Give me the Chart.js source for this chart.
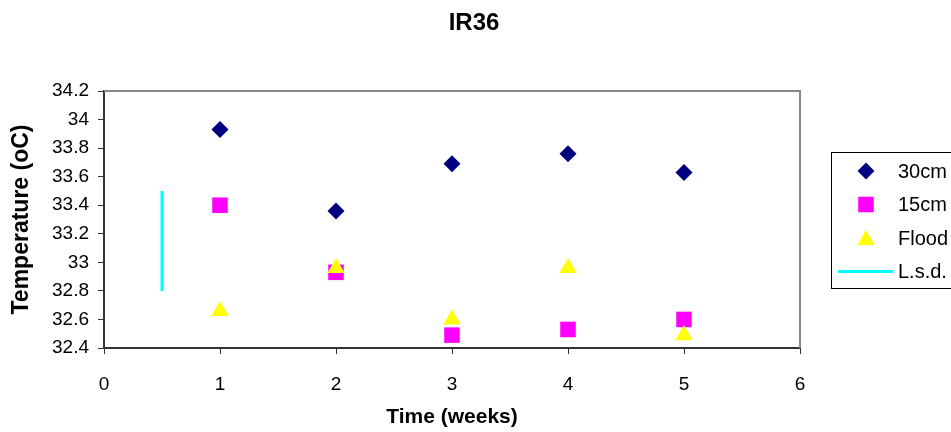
<!DOCTYPE html>
<html>
<head>
<meta charset="utf-8">
<title>IR36</title>
<script src="https://cdn.jsdelivr.net/npm/chart.js@4.4.0/dist/chart.umd.min.js"></script>
<style>
  html, body { margin: 0; padding: 0; background: #fff; }
  #wrap { width: 951px; height: 432px; }
</style>
</head>
<body>
<div id="wrap"><canvas id="chart" width="951" height="432"></canvas></div>
<script>
// Data
const weeks = [1, 2, 3, 4, 5];
const temp30cm = [33.93, 33.36, 33.69, 33.76, 33.63];
const temp15cm = [33.40, 32.93, 32.49, 32.53, 32.60];
const tempFlood = [32.66, 32.96, 32.60, 32.96, 32.49];
const lsdX = [0.5, 0.5];
const lsdY = [33.5, 32.8];
const seriesNames = ['30cm', '15cm', 'Flood', 'L.s.d.'];
const xRange = [0, 6];
const yRange = [32.4, 34.2];

const FONT = "'Liberation Sans', Arial, sans-serif";

function points(xs, ys) {
    return xs.map((x, i) => ({ x: x, y: ys[i] }));
}

// gray top/right frame of the plot
const plotFrame = {
    id: 'plotFrame',
    beforeDatasetsDraw(chart) {
        const { ctx, chartArea: a } = chart;
        ctx.save();
        ctx.strokeStyle = '#888888';
        ctx.lineWidth = 2;
        ctx.beginPath();
        ctx.moveTo(a.left, a.top);
        ctx.lineTo(a.right, a.top);
        ctx.lineTo(a.right, a.bottom);
        ctx.stroke();
        ctx.restore();
    }
};

// title centred on the whole canvas
const chartTitle = {
    id: 'chartTitle',
    afterDraw(chart) {
        const ctx = chart.ctx;
        ctx.save();
        ctx.fillStyle = '#000';
        ctx.font = 'bold 24px ' + FONT;
        ctx.textAlign = 'center';
        ctx.textBaseline = 'middle';
        ctx.fillText('IR36', 474, 23);
        ctx.restore();
    }
};

// boxed legend on the right, cut by the edge like the original
const boxLegend = {
    id: 'boxLegend',
    afterDraw(chart) {
        const ctx = chart.ctx;
        const left = 831, top = 152, rowH = 33.5;
        ctx.save();
        ctx.strokeStyle = '#000';
        ctx.lineWidth = 1;
        ctx.strokeRect(left + 0.5, top + 0.5, 200, 136);
        ctx.font = '20px ' + FONT;
        ctx.textBaseline = 'middle';
        ctx.textAlign = 'left';
        chart.data.datasets.forEach((ds, i) => {
            const y = top + 19 + i * rowH;
            if (ds.showLine) {
                ctx.strokeStyle = ds.borderColor;
                ctx.lineWidth = ds.borderWidth;
                ctx.beginPath();
                ctx.moveTo(838, y);
                ctx.lineTo(893, y);
                ctx.stroke();
            } else {
                ctx.fillStyle = ds.backgroundColor;
                ctx.strokeStyle = ds.borderColor;
                Chart.helpers.drawPoint(ctx, {
                    pointStyle: ds.pointStyle,
                    radius: ds.pointRadius,
                    rotation: 0,
                    borderWidth: 0
                }, 866, ds.pointStyle === 'triangle' ? y + 2 : y);
            }
            ctx.fillStyle = '#000';
            ctx.fillText(ds.label, 898, y + 1);
        });
        ctx.restore();
    }
};

const ctx = document.getElementById('chart').getContext('2d');

new Chart(ctx, {
    type: 'scatter',
    data: {
        datasets: [
            {
                label: seriesNames[0],
                data: points(weeks, temp30cm),
                order: 3,
                pointStyle: 'rectRot',
                pointRadius: 8.5,
                backgroundColor: '#000080',
                borderColor: '#000080',
                borderWidth: 0
            },
            {
                label: seriesNames[1],
                data: points(weeks, temp15cm),
                order: 2,
                pointStyle: 'rect',
                pointRadius: 11,
                backgroundColor: '#FF00FF',
                borderColor: '#FF00FF',
                borderWidth: 0
            },
            {
                label: seriesNames[2],
                data: points(weeks, tempFlood),
                order: 1,
                pointStyle: 'triangle',
                pointRadius: 10,
                backgroundColor: '#FFFF00',
                borderColor: '#FFFF00',
                borderWidth: 0
            },
            {
                label: seriesNames[3],
                data: points(lsdX, lsdY),
                order: 0,
                showLine: true,
                pointRadius: 0,
                borderColor: '#00FFFF',
                borderWidth: 3
            }
        ]
    },
    options: {
        responsive: false,
        animation: false,
        events: [],
        layout: { padding: { top: 91, right: 151, left: 0, bottom: 0 } },
        plugins: {
            legend: { display: false },
            title: { display: false },
            tooltip: { enabled: false }
        },
        scales: {
            x: {
                type: 'linear',
                min: xRange[0],
                max: xRange[1],
                afterFit: s => { s.height = 84; },
                ticks: {
                    stepSize: 1,
                    color: '#000',
                    padding: 19,
                    font: { family: FONT, size: 19 }
                },
                grid: {
                    drawOnChartArea: false,
                    drawTicks: true,
                    tickLength: 6,
                    color: '#333'
                },
                border: { color: '#333', width: 2 },
                title: {
                    display: true,
                    text: 'Time (weeks)',
                    color: '#000',
                    padding: { top: 2, bottom: 2 },
                    font: { family: FONT, size: 21, weight: 'bold' }
                }
            },
            y: {
                type: 'linear',
                min: yRange[0],
                max: yRange[1],
                afterFit: s => { s.width = 104; },
                ticks: {
                    stepSize: 0.2,
                    color: '#000',
                    padding: 9,
                    font: { family: FONT, size: 19 },
                    callback: v => String(Number(v.toFixed(1)))
                },
                grid: {
                    drawOnChartArea: false,
                    drawTicks: true,
                    tickLength: 6,
                    color: '#333'
                },
                border: { color: '#333', width: 2 },
                title: {
                    display: true,
                    text: 'Temperature (oC)',
                    color: '#000',
                    padding: { top: 8, bottom: 8 },
                    font: { family: FONT, size: 23, weight: 'bold' }
                }
            }
        }
    },
    plugins: [plotFrame, chartTitle, boxLegend]
});
</script>
</body>
</html>
